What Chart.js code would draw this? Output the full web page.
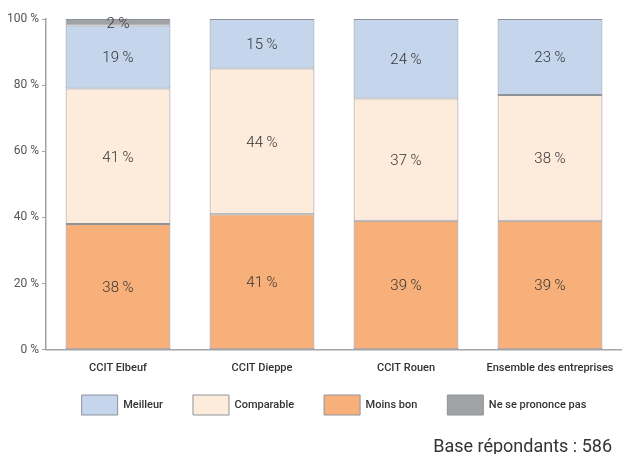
<!DOCTYPE html>
<html>
<head>
<meta charset="utf-8">
<script src="https://cdn.jsdelivr.net/npm/chart.js@4/dist/chart.umd.min.js"></script>
<style>
	html, body { margin: 0; padding: 0; background: #fff; }
	#wrap { position: relative; width: 622px; height: 454px; }
	#base {
		position: absolute; right: 10px; bottom: -2px;
		font: 18px Roboto, sans-serif; color: #333;
	}
</style>
</head>
<body>
<div id="wrap">
	<canvas id="chart" width="622" height="454"></canvas>
	<div id="base">Base répondants : 586</div>
</div>
<script>
'use strict';

const categories = ['CCIT Elbeuf', 'CCIT Dieppe', 'CCIT Rouen', 'Ensemble des entreprises'];
const moinsBon = [38, 41, 39, 39];
const comparable = [41, 44, 37, 38];
const meilleur = [19, 15, 24, 23];
const nePrononcePas = [2, null, null, null];
const yTicks = [0, 20, 40, 60, 80, 100];
const legendOrder = ['Meilleur', 'Comparable', 'Moins bon', 'Ne se prononce pas'];

const borderGray = '#8e939a';
const axisGray = '#a4a4a4';

function makeSet(label, data, color) {
	return {
		label: label,
		data: data,
		backgroundColor: color,
		borderColor: borderGray,
		borderWidth: 1,
		borderSkipped: false,
		categoryPercentage: 1,
		barPercentage: 0.728
	};
}

// writes "NN %" in the middle of every segment
const segmentLabels = {
	id: 'segmentLabels',
	afterDatasetsDraw(chart) {
		let ctx = chart.ctx;
		ctx.save();
		ctx.font = '300 15px Roboto, sans-serif';
		ctx.fillStyle = '#333';
		ctx.textAlign = 'center';
		ctx.textBaseline = 'middle';
		chart.data.datasets.forEach((ds, i) => {
			let meta = chart.getDatasetMeta(i);
			meta.data.forEach((bar, j) => {
				let v = ds.data[j];
				if (!v) return;
				let p = bar.getProps(['x', 'y', 'base'], true);
				ctx.fillText(v + ' %', p.x, (p.y + p.base) / 2 + 1.5);
			});
		});
		ctx.restore();
	}
};

// pull the legend a bit closer to the x axis labels
const legendShift = {
	id: 'legendShift',
	afterLayout(chart) {
		let legend = chart.legend;
		legend.top = chart.scales.x.bottom - 14;
		legend.bottom = legend.top + legend.height;
	}
};

let ctx = document.getElementById('chart');
let chart = new Chart(ctx, {
	type: 'bar',
	data: {
		labels: categories,
		datasets: [
			makeSet('Moins bon', moinsBon, '#f8b07a'),
			makeSet('Comparable', comparable, '#fdebdb'),
			makeSet('Meilleur', meilleur, '#c5d5ec'),
			makeSet('Ne se prononce pas', nePrononcePas, '#a1a2a6')
		]
	},
	options: {
		responsive: false,
		animation: false,
		layout: { padding: { left: 4, top: 19, right: 0, bottom: 15 } },
		scales: {
			x: {
				stacked: true,
				grid: { display: false },
				border: { color: axisGray, width: 1.5 },
				ticks: {
					color: '#333',
					padding: 4,
					font: { family: 'Roboto', size: 11, weight: 500 }
				}
			},
			y: {
				stacked: true,
				min: 0,
				max: 100,
				afterBuildTicks: (scale) => {
					scale.ticks = yTicks.map((v) => ({ value: v }));
				},
				grid: { drawOnChartArea: false, tickLength: 4, color: axisGray },
				border: { color: axisGray, width: 1.5 },
				ticks: {
					color: '#555',
					padding: 3,
					font: { family: 'Roboto', size: 12 },
					callback: (v) => v + ' %'
				}
			}
		},
		plugins: {
			tooltip: { enabled: false },
			legend: {
				position: 'bottom',
				fullSize: false,
				labels: {
					boxWidth: 36,
					boxHeight: 20,
					padding: 30,
					color: '#333',
					font: { family: 'Roboto', size: 11, weight: 500 },
					sort: (a, b) => legendOrder.indexOf(a.text) - legendOrder.indexOf(b.text)
				}
			}
		}
	},
	plugins: [segmentLabels, legendShift]
});
</script>
</body>
</html>
